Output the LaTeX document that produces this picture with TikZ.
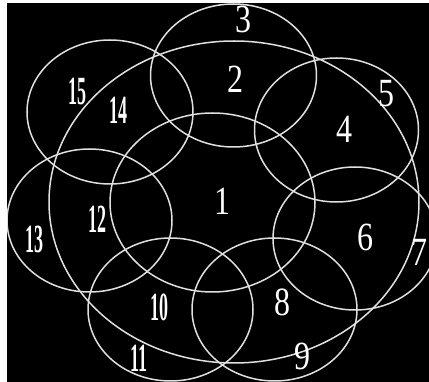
\documentclass[tikz,border=0pt]{standalone}
\usepackage{fontspec}
\setmainfont{Liberation Serif}
\begin{document}
\begin{tikzpicture}[x=1pt,y=-1pt,
  ring/.style={draw=white!88!black,line width=1.5pt},
  lab/.style={text=white,font=\fontsize{40}{40}\selectfont,inner sep=0pt,anchor=center},
  narrow/.style={lab,font=\fontsize{40}{40}\selectfont\bfseries,xscale=0.45},
  single/.style={lab,xscale=0.8}]
\useasboundingbox (0,0) rectangle (429,382);
\fill[white] (0,0) rectangle (429,382);
\fill[black] (7,3) rectangle (429,382);
\begin{scope}
\clip (7,3) rectangle (429,382);
\draw[ring] (234,202) ellipse [x radius=185pt, y radius=161pt];
\draw[ring] (212.5,202.5) ellipse [x radius=102.5pt, y radius=89.5pt];
\draw[ring] (233.5,75.5) ellipse [x radius=83pt, y radius=71.5pt];
\draw[ring] (110,112) ellipse [x radius=83pt, y radius=72pt];
\draw[ring] (336.5,130) ellipse [x radius=82pt, y radius=72pt];
\draw[ring] (89.5,220.5) ellipse [x radius=82.5pt, y radius=71.5pt];
\draw[ring] (355,238.5) ellipse [x radius=82pt, y radius=71.5pt];
\draw[ring] (170.5,309.5) ellipse [x radius=82.5pt, y radius=71.5pt];
\draw[ring] (274.5,309.5) ellipse [x radius=82.5pt, y radius=71.5pt];
\end{scope}
\node[single] (n1) at (222,201) {1};
\node[single] (n2) at (235,79) {2};
\node[single] (n3) at (243,19) {3};
\node[single] (n4) at (344,129) {4};
\node[single] (n5) at (386,94) {5};
\node[single] (n6) at (365,237) {6};
\node[single] (n7) at (419,252) {7};
\node[single] (n8) at (282,302) {8};
\node[single] (n9) at (302,356) {9};
\node[narrow] (n10) at (159,307) {10};
\node[narrow] (n11) at (139,358) {11};
\node[narrow] (n12) at (97,219) {12};
\node[narrow] (n13) at (35,239) {13};
\node[narrow] (n14) at (118,110) {14};
\node[narrow] (n15) at (77,91) {15};
\end{tikzpicture}
\end{document}
